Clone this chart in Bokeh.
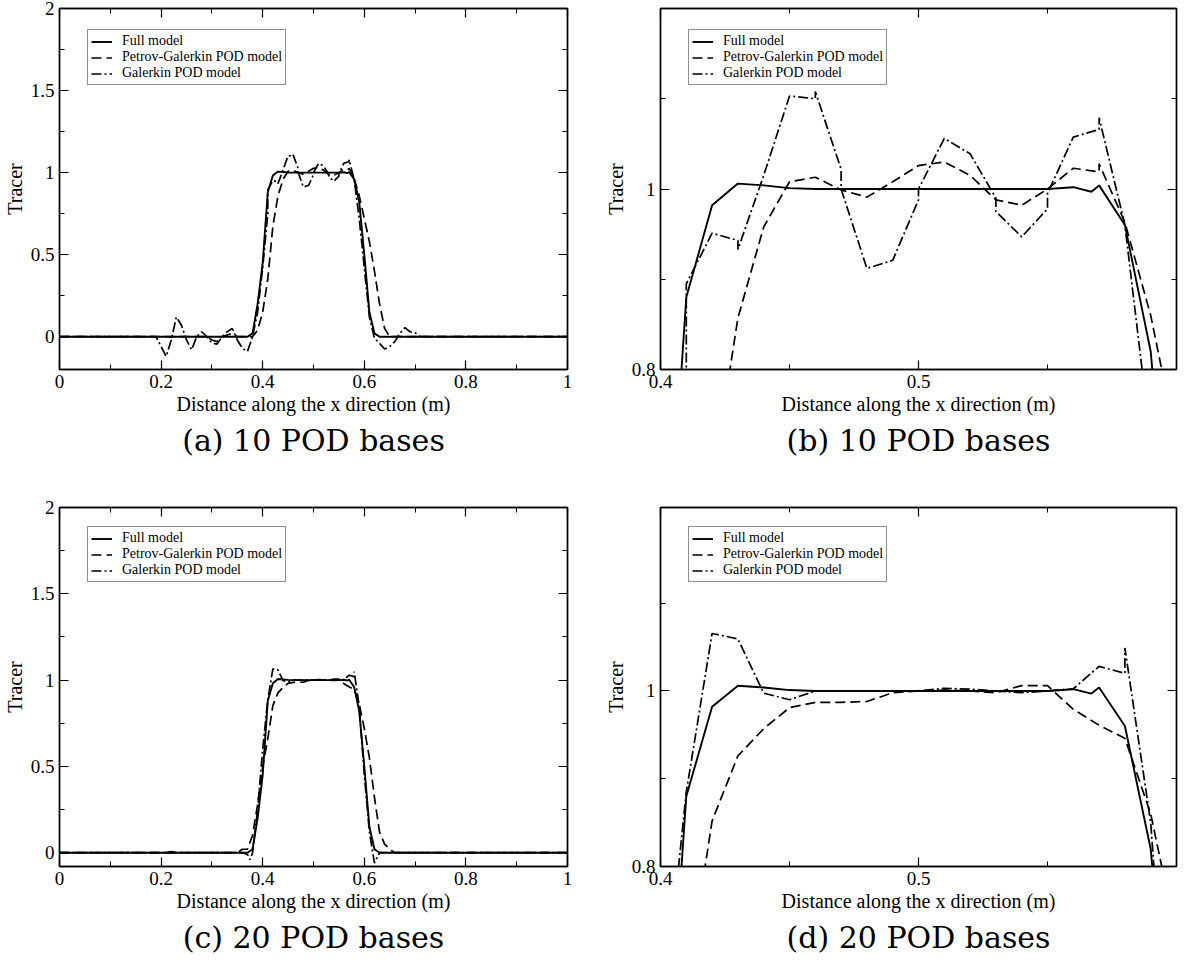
from bokeh.plotting import figure
from bokeh.models import Range1d, FixedTicker, LinearAxis, Legend, LegendItem, Title
from bokeh.layouts import column, row
from bokeh.embed import file_html
from bokeh.resources import INLINE

# ---------------- data ----------------
full_x = [0.00, 0.37, 0.38, 0.39, 0.40, 0.41, 0.42, 0.43, 0.44, 0.45, 0.46, 0.50,
          0.55, 0.56, 0.567, 0.57, 0.58, 0.59, 0.60, 0.61, 0.62, 0.63, 1.00]
full_y = [0.0, 0.0, 0.02, 0.2, 0.45, 0.88, 0.982, 1.006, 1.004, 1.001, 1.0, 1.0,
          1.0, 1.002, 0.997, 1.004, 0.96, 0.82, 0.5, 0.15, 0.02, 0.0, 0.0]

pg10_x = [0.00, 0.29, 0.30, 0.31, 0.32, 0.34, 0.35, 0.38, 0.39, 0.40, 0.41, 0.42, 0.43,
          0.44, 0.45, 0.46, 0.47, 0.48, 0.49, 0.50, 0.51, 0.52, 0.53, 0.54, 0.55,
          0.56, 0.57, 0.57, 0.58, 0.59, 0.60, 0.61, 0.62, 0.63, 0.64, 0.65, 1.00]
pg10_y = [0.0, 0.0, -0.02, -0.03, 0.0, 0.02, 0.0, 0.0, 0.04, 0.15, 0.35, 0.673, 0.857,
          0.958, 1.008, 1.013, 0.999, 0.991, 1.008, 1.026, 1.030, 1.015, 0.988, 0.982, 1.0,
          1.023, 1.019, 1.028, 0.963, 0.86, 0.72, 0.58, 0.40, 0.20, 0.05, 0.0, 0.0]

gal10_x = [0.00, 0.19, 0.20, 0.21, 0.22, 0.23, 0.24, 0.25, 0.26, 0.27, 0.28, 0.29,
           0.30, 0.31, 0.32, 0.33, 0.34, 0.35, 0.36, 0.37, 0.38, 0.39, 0.40, 0.41,
           0.41, 0.42, 0.43, 0.43, 0.44, 0.45, 0.46, 0.46, 0.47, 0.47, 0.48, 0.49,
           0.50, 0.50, 0.51, 0.52, 0.53, 0.53, 0.54, 0.55, 0.55, 0.56, 0.57, 0.57,
           0.58, 0.59, 0.60, 0.61, 0.62, 0.63, 0.64, 0.65, 0.66, 0.67, 0.68, 0.69,
           0.70, 0.71, 1.00]
gal10_y = [0.0, 0.0, -0.06, -0.12, -0.02, 0.12, 0.07, -0.02, -0.08, 0.0, 0.03, 0.0,
           -0.04, -0.045, 0.0, 0.03, 0.05, -0.02, -0.07, -0.09, 0.0, 0.15, 0.42, 0.75,
           0.895, 0.951, 0.943, 0.933, 1.015, 1.103, 1.100, 1.108, 1.022, 1.0, 0.912, 0.921,
           0.988, 1.0, 1.056, 1.039, 0.99, 0.975, 0.947, 0.978, 0.995, 1.0575, 1.066, 1.079,
           0.96, 0.72, 0.42, 0.12, -0.01, -0.04, -0.075, -0.06, -0.03, 0.02, 0.055, 0.03,
           0.025, 0.0, 0.0]

pg20_x = [0.00, 0.35, 0.36, 0.37, 0.38, 0.39, 0.40, 0.41, 0.42, 0.43, 0.44, 0.45,
          0.46, 0.47, 0.48, 0.49, 0.50, 0.51, 0.52, 0.53, 0.54, 0.55, 0.56, 0.57,
          0.58, 0.59, 0.60, 0.61, 0.62, 0.63, 0.64, 0.65, 0.66, 1.00]
pg20_y = [0.0, 0.0, 0.02, 0.02, 0.10, 0.28, 0.50, 0.66, 0.852, 0.926, 0.957, 0.981,
          0.987, 0.987, 0.988, 0.998, 1.0, 1.001, 1.0, 0.998, 1.006, 1.006, 0.979, 0.961,
          0.946, 0.86, 0.72, 0.55, 0.32, 0.12, 0.05, 0.02, 0.0, 0.0]

gal20_x = [0.00, 0.21, 0.22, 0.23, 0.36, 0.37, 0.375, 0.38, 0.39, 0.40, 0.41, 0.42,
           0.43, 0.44, 0.45, 0.46, 0.50, 0.51, 0.52, 0.53, 0.54, 0.55, 0.56, 0.57,
           0.58, 0.58, 0.59, 0.60, 0.61, 0.62, 0.63, 1.00]
gal20_y = [0.0, 0.0, 0.006, 0.0, 0.0, -0.01, -0.04, 0.0, 0.25, 0.60, 0.885, 1.0655,
           1.0593, 0.9975, 0.990, 1.0, 1.0, 1.003, 1.002, 1.0, 0.998, 1.0, 1.0025, 1.028,
           1.020, 1.049, 0.85, 0.45, 0.12, -0.06, 0.0, 0.0]

series_names = ["Full model", "Petrov-Galerkin POD model", "Galerkin POD model"]
captions = ["(a) 10 POD bases", "(b) 10 POD bases", "(c) 20 POD bases", "(d) 20 POD bases"]
x_title = "Distance along the x direction (m)"
y_title = "Tracer"

wide_x_ticks = [0.0, 0.2, 0.4, 0.6, 0.8, 1.0]
wide_x_minor = [0.1, 0.3, 0.5, 0.7, 0.9]
wide_x_labels = ["0", "0.2", "0.4", "0.6", "0.8", "1"]
wide_y_ticks = [0.0, 0.5, 1.0, 1.5, 2.0]
wide_y_minor = [0.25, 0.75, 1.25, 1.75]
wide_y_labels = ["0", "0.5", "1", "1.5", "2"]
zoom_x_ticks = [0.4, 0.5]
zoom_x_minor = [0.45, 0.55]
zoom_x_labels = ["0.4", "0.5"]
zoom_y_ticks = [0.8, 1.0]
zoom_y_minor = [0.9, 1.1]
zoom_y_labels = ["0.8", "1"]

SERIF = "Liberation Serif"
CAP_FONT = "DejaVu Serif"


def style_axis(ax, ticks, minor, labels, show_labels=True):
    ax.ticker = FixedTicker(ticks=ticks, minor_ticks=minor)
    ax.axis_line_color = "black"
    ax.axis_line_width = 1.4
    ax.major_tick_in = 9
    ax.major_tick_out = 0
    ax.minor_tick_in = 5
    ax.minor_tick_out = 0
    ax.major_tick_line_color = "black"
    ax.minor_tick_line_color = "black"
    ax.major_tick_line_width = 1.2
    ax.minor_tick_line_width = 1.0
    if show_labels:
        ax.major_label_overrides = dict(zip(ticks, labels))
        ax.major_label_text_font = SERIF
        ax.major_label_text_font_size = "19px"
        ax.major_label_text_color = "black"
        ax.major_label_standoff = 5
        ax.axis_label_text_font = SERIF
        ax.axis_label_text_font_size = "20px"
        ax.axis_label_text_font_style = "normal"
        ax.axis_label_text_color = "black"
        ax.axis_label_standoff = 2
    else:
        # mirror axis: ticks only, labels not painted
        ax.major_label_text_font_size = "1px"
        ax.major_label_text_color = None
        ax.major_label_standoff = 0
        ax.axis_label = None


def make_panel(xs, ys, xr, yr, xt, xm, xl, yt, ym, yl, caption, width, height,
               bl, br, bt, bb):
    p = figure(width=width, height=height, x_range=Range1d(*xr), y_range=Range1d(*yr),
               output_backend="svg", toolbar_location=None,
               min_border_left=bl, min_border_right=br, min_border_top=bt,
               min_border_bottom=bb)
    p.grid.visible = False
    p.outline_line_color = "black"
    p.outline_line_width = 1.4
    p.background_fill_color = "white"
    p.border_fill_color = "white"

    style_axis(p.xaxis[0], xt, xm, xl)
    style_axis(p.yaxis[0], yt, ym, yl)
    p.xaxis[0].axis_label = x_title
    p.yaxis[0].axis_label = y_title

    top = LinearAxis()
    style_axis(top, xt, xm, xl, show_labels=False)
    right = LinearAxis()
    style_axis(right, yt, ym, yl, show_labels=False)
    p.add_layout(top, "above")
    p.add_layout(right, "right")

    dashes = ["solid", "10 5", "10 3 2 3"]
    widths = [1.9, 1.7, 1.7]
    items = []
    for (x, y), dash, w, name in zip(zip(xs, ys), dashes, widths, series_names):
        r = p.line(x, y, line_color="black", line_width=w, line_dash=dash)
        items.append(LegendItem(label=name, renderers=[r]))

    leg = Legend(items=items, location=(28, 284), margin=0, padding=3, spacing=0,
                 glyph_width=21, glyph_height=15, label_height=15, label_standoff=10,
                 label_text_font=SERIF, label_text_font_size="14px",
                 label_text_color="black",
                 border_line_color="#222222", border_line_width=1,
                 background_fill_color="white", background_fill_alpha=1.0)
    p.add_layout(leg)

    t = Title(text=caption, align="center", text_font=CAP_FONT,
              text_font_size="30px", text_font_style="normal", text_color="black",
              standoff=6)
    p.add_layout(t, "below")
    return p


wide_args = dict(xr=(0.0, 1.0), xt=wide_x_ticks, xm=wide_x_minor, xl=wide_x_labels,
                 yt=wide_y_ticks, ym=wide_y_minor, yl=wide_y_labels)
zoom_args = dict(xr=(0.4, 0.6), xt=zoom_x_ticks, xm=zoom_x_minor, xl=zoom_x_labels,
                 yt=zoom_y_ticks, ym=zoom_y_minor, yl=zoom_y_labels)

xs10 = [full_x, pg10_x, gal10_x]
ys10 = [full_y, pg10_y, gal10_y]
xs20 = [full_x, pg20_x, gal20_x]
ys20 = [full_y, pg20_y, gal20_y]

pa = make_panel(xs10, ys10, yr=(-0.2, 2.0), caption=captions[0], width=588, height=487,
                bl=51, br=21, bt=8, bb=118, **wide_args)
pb = make_panel(xs10, ys10, yr=(0.8, 1.2), caption=captions[1], width=592, height=487,
                bl=72, br=4, bt=8, bb=118, **zoom_args)
pc = make_panel(xs20, ys20, yr=(-0.08, 2.0), caption=captions[2], width=588, height=470,
                bl=51, br=21, bt=20, bb=88, **wide_args)
pd = make_panel(xs20, ys20, yr=(0.8, 1.209), caption=captions[3], width=592, height=470,
                bl=72, br=4, bt=12, bb=88, **zoom_args)

layout = column(row(pa, pb), row(pc, pd))

with open("out.html", "w") as f:
    f.write(file_html(layout, INLINE))
